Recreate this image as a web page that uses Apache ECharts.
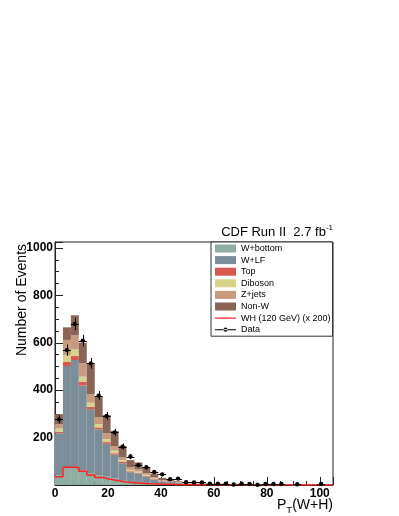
<!DOCTYPE html>
<html>
<head>
<meta charset="utf-8">
<script src="https://cdn.jsdelivr.net/npm/echarts@6/dist/echarts.min.js"></script>
<style>
    html, body { margin: 0; padding: 0; background: #fff; }
    #chart { width: 399px; height: 516px; }
</style>
</head>
<body>
<div id="chart"></div>
<script>
(function(){
    // bins of P_T(W+H), lower edges, width 3
    const binWidth = 3;
    const binLow = [0, 3, 6, 9, 12, 15, 18, 21, 24, 27, 30, 33, 36, 39, 42, 45, 48, 51, 54, 57,
                    60, 63, 66, 69, 72, 75, 78, 81, 84, 87, 90, 93, 96, 99, 102];

    // stacked backgrounds, bottom to top
    const wBottom = [40, 72, 72, 62, 50, 42, 35, 28, 21, 17, 13, 10, 8, 6, 5, 4, 3, 2.5, 2, 1.8,
                     1.5, 1.3, 1.1, 1, 0.9, 0.8, 0.7, 0.6, 0.5, 0.5, 0.4, 0.4, 0.3, 0.3, 0.3];
    const wLF     = [178, 430, 455, 357, 270, 193, 139, 100, 71, 37, 36, 26, 15, 9, 7, 5, 4, 3.5, 3, 2.6,
                     2.3, 2, 1.7, 1.5, 1.4, 1.2, 1.1, 1, 0.9, 0.8, 0.7, 0.6, 0.55, 0.5, 0.45];
    const topQ    = [6, 18, 17, 17, 10, 8, 7, 6, 5, 4, 3, 3, 2, 1, 1, 1, 0.5, 0.5, 0.4, 0.3,
                     0.3, 0.3, 0.2, 0.2, 0.2, 0.2, 0.1, 0.1, 0.1, 0.1, 0.1, 0.1, 0.1, 0.1, 0.1];
    const diboson = [15, 28, 28, 21, 17, 14, 13, 11, 8, 6, 5, 4, 3, 2, 1, 1, 1, 0.5, 0.5, 0.4,
                     0.3, 0.3, 0.3, 0.2, 0.2, 0.2, 0.2, 0.1, 0.1, 0.1, 0.1, 0.1, 0.1, 0.1, 0.1];
    const zJets   = [18, 64, 61, 56, 37, 28, 24, 19, 13, 11, 9, 7, 5, 3, 3, 2, 1.5, 1.5, 1, 1,
                     0.8, 0.7, 0.6, 0.5, 0.5, 0.4, 0.4, 0.3, 0.3, 0.3, 0.2, 0.2, 0.2, 0.2, 0.2];
    const nonW    = [42, 53, 83, 87, 126, 86, 77, 64, 47, 30, 29, 23, 15, 9, 5, 3, 2, 2, 1, 1,
                     0.8, 0.7, 0.6, 0.5, 0.5, 0.4, 0.4, 0.3, 0.3, 0.3, 0.2, 0.2, 0.2, 0.2, 0.2];

    // signal WH (120 GeV) x 200
    const wh      = [35, 75, 74, 58, 42, 32, 24, 18, 13, 9, 7, 5, 4, 3, 2, 1.5, 1.2, 1, 0.8, 0.6,
                     0.5, 0.4, 0.3, 0.3, 0.2, 0.2, 0.2, 0.1, 0.1, 0.1, 0.1, 0.1, 0.1, 0.1, 0.1];

    // observed events
    const dataObs = [277, 569, 679, 609, 513, 377, 291, 222, 162, 120, 84, 75, 55, 45, 24, 27, 12, 11, 11, 6,
                     6, 6, 2, 6, 4, 1, 4, 4, 4, 0, 3, 0, 0, 4, 0];

    const yTicks = [200, 400, 600, 800, 1000];
    const xTicks = [0, 20, 40, 60, 80, 100];

    const FONT = 'Liberation Sans, Arial, Helvetica, sans-serif';

    const layers = [
        { name: 'W+bottom', vals: wBottom, color: '#8fada1' },
        { name: 'W+LF',     vals: wLF,     color: '#7a8d98' },
        { name: 'Top',      vals: topQ,    color: '#d8574f' },
        { name: 'Diboson',  vals: diboson, color: '#d7d38b' },
        { name: 'Z+jets',   vals: zJets,   color: '#c99b7e' },
        { name: 'Non-W',    vals: nonW,    color: '#8a6454' }
    ];

    let renderStack = function(params, api){
        let p0 = api.coord([api.value(0), api.value(3)]);
        let p1 = api.coord([api.value(1), api.value(2)]);
        return {
            type: 'rect',
            shape: { x: p0[0], y: p0[1], width: p1[0] - p0[0], height: p1[1] - p0[1] },
            style: { fill: api.visual('color') }
        };
    };

    let renderData = function(params, api){
        let x = api.value(0), y = api.value(1);
        let err = Math.sqrt(y);
        let c = api.coord([x, y]);
        let lo = api.coord([x, Math.max(0, y - err)]);
        let hi = api.coord([x, y + err]);
        let l = api.coord([x - binWidth / 2, y]);
        let r = api.coord([x + binWidth / 2, y]);
        let cx = Math.round(c[0]) + 0.5, cy = Math.round(c[1]) + 0.5;
        return {
            type: 'group',
            children: [
                { type: 'line', shape: { x1: cx, y1: lo[1], x2: cx, y2: hi[1] }, style: { stroke: '#000', lineWidth: 1 } },
                { type: 'line', shape: { x1: l[0], y1: cy, x2: r[0], y2: cy }, style: { stroke: '#000', lineWidth: 1 } },
                { type: 'circle', shape: { cx: c[0], cy: c[1], r: 2.2 }, style: { fill: '#000' } }
            ]
        };
    };

    let series = [];
    let base = binLow.map(() => 0);
    layers.forEach((ly) => {
        let items = binLow.map((x, i) => {
            let item = [x, x + binWidth, base[i], base[i] + ly.vals[i]];
            base[i] += ly.vals[i];
            return item;
        });
        series.push({
            name: ly.name,
            type: 'custom',
            renderItem: renderStack,
            itemStyle: { color: ly.color },
            encode: { x: [0, 1], y: [2, 3] },
            data: items,
            z: 2
        });
    });

    let whLine = binLow.map((x, i) => [x, wh[i]]);
    whLine.push([binLow[binLow.length - 1] + binWidth, wh[wh.length - 1]]);
    series.push({
        name: 'WH (120 GeV) (x 200)',
        type: 'line',
        step: 'end',
        showSymbol: false,
        symbol: 'none',
        itemStyle: { color: '#ff2020' },
        lineStyle: { color: '#ff2020', width: 1.5 },
        data: whLine,
        z: 3
    });

    let pts = [];
    binLow.forEach((x, i) => {
        if (dataObs[i] > 0) pts.push([x + binWidth / 2, dataObs[i]]);
    });
    series.push({
        name: 'Data',
        type: 'custom',
        renderItem: renderData,
        itemStyle: { color: '#000' },
        encode: { x: 0, y: 1 },
        data: pts,
        z: 4
    });

    const pin = 'M0,0h0.01v0.01h-0.01Z M21.99,7.99h0.01v0.01h-0.01Z ';
    let legendData = layers.map((ly) => ({ name: ly.name, icon: 'rect' }));
    legendData.push({ name: 'WH (120 GeV) (x 200)', icon: 'path://' + pin + 'M0,3.3H22V4.7H0Z' });
    legendData.push({ name: 'Data', icon: 'path://' + pin + 'M0,3.5H22V4.5H0Z M8.8,4a2.2,2.2 0 1,0 4.4,0a2.2,2.2 0 1,0 -4.4,0Z' });

    const axisCol = '#222';
    const yMax = 1025, xMax = 105;

    let opts = {
        animation: false,
        grid: {
            left: 55, right: 66, top: 242, bottom: 31,
            show: true, borderColor: axisCol, borderWidth: 1
        },
        legend: {
            data: legendData,
            orient: 'vertical',
            left: 211,
            top: 242,
            itemWidth: 21,
            itemHeight: 8,
            itemGap: 2.6,
            padding: [2, 2, 2, 4],
            backgroundColor: '#fff',
            borderColor: '#333',
            borderWidth: 1,
            selectedMode: false,
            textStyle: { fontFamily: FONT, fontSize: 9, lineHeight: 9, color: '#000' }
        },
        xAxis: [
            {
                type: 'value', min: 0, max: xMax, interval: 20,
                axisLine: { lineStyle: { color: axisCol } },
                axisTick: { inside: true, length: 8, lineStyle: { color: axisCol } },
                splitLine: { show: false },
                axisLabel: {
                    margin: 3, color: '#000', fontFamily: FONT, fontWeight: 'bold', fontSize: 12,
                    formatter: (v) => (xTicks.indexOf(v) >= 0 ? String(v) : '')
                }
            },
            {
                type: 'value', min: 0, max: xMax, interval: 5, position: 'bottom',
                axisLine: { show: false },
                axisTick: { inside: true, length: 4, lineStyle: { color: axisCol } },
                axisLabel: { show: false },
                splitLine: { show: false }
            }
        ],
        yAxis: [
            {
                type: 'value', min: 0, max: yMax, interval: 200,
                axisLine: { show: true, lineStyle: { color: axisCol } },
                axisTick: { show: true, inside: true, length: 8, lineStyle: { color: axisCol } },
                splitLine: { show: false },
                axisLabel: {
                    margin: 2, color: '#000', fontFamily: FONT, fontWeight: 'bold', fontSize: 12,
                    formatter: (v) => (yTicks.indexOf(v) >= 0 ? String(v) : '')
                }
            },
            {
                type: 'value', min: 0, max: yMax, interval: 50, position: 'left',
                axisLine: { show: false },
                axisTick: { show: true, inside: true, length: 4, lineStyle: { color: axisCol } },
                axisLabel: { show: false },
                splitLine: { show: false }
            }
        ],
        graphic: [
            {
                type: 'text', x: 22, y: 300, rotation: Math.PI / 2,
                style: {
                    text: 'Number of Events', fill: '#000', fontFamily: FONT, fontSize: 14,
                    align: 'center', verticalAlign: 'middle'
                }
            },
            {
                type: 'text', x: 333, y: 232,
                style: {
                    text: '{a|CDF Run II  2.7 fb}{s|-1}', align: 'right', verticalAlign: 'middle',
                    rich: {
                        a: { fontFamily: FONT, fontSize: 13, lineHeight: 16, fill: '#000' },
                        s: { fontFamily: FONT, fontSize: 8, lineHeight: 8, verticalAlign: 'top', fill: '#000' }
                    }
                }
            },
            {
                type: 'text', x: 333, y: 505,
                style: {
                    text: '{a|P}{t|T}{a|(W+H)}', align: 'right', verticalAlign: 'middle',
                    rich: {
                        a: { fontFamily: FONT, fontSize: 14, lineHeight: 20, fill: '#000' },
                        t: { fontFamily: FONT, fontSize: 9.5, lineHeight: 10, verticalAlign: 'bottom', fill: '#000' }
                    }
                }
            }
        ],
        series: series
    };

    let chart = echarts.init(document.getElementById('chart'), null, { renderer: 'canvas' });
    chart.setOption(opts);
})();
</script>
</body>
</html>
